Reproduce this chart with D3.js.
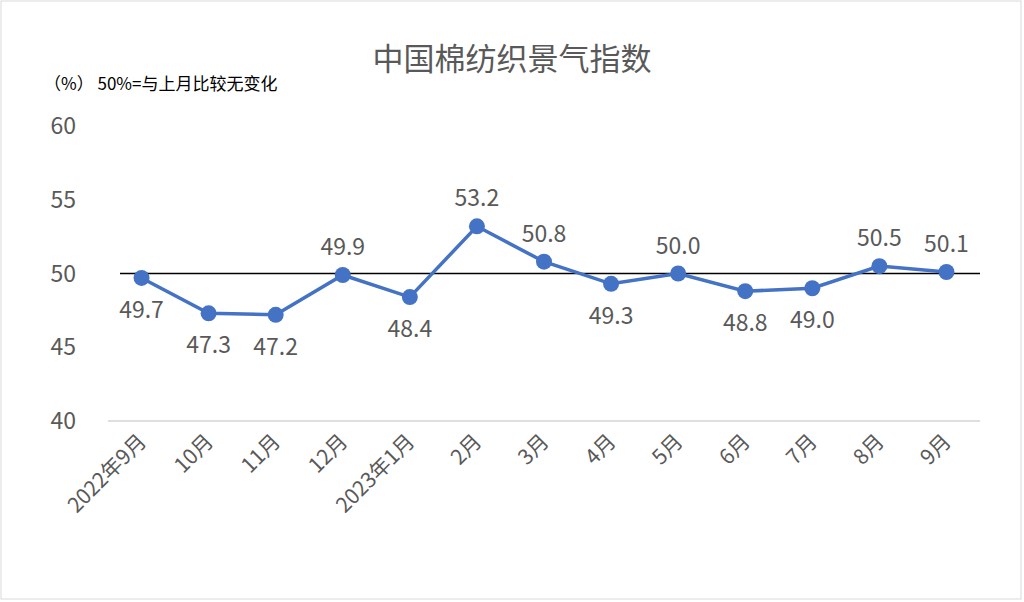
<!DOCTYPE html>
<html><head><meta charset="utf-8">
<script src="https://cdn.jsdelivr.net/npm/d3@7"></script>
<style>body{margin:0;background:#fff}svg{display:block}</style>
</head><body><svg id="c" width="1024" height="602"></svg>
<script>
const categories=["2022年9月","10月","11月","12月","2023年1月","2月","3月","4月","5月","6月","7月","8月","9月"];
const values=[49.7,47.3,47.2,49.9,48.4,53.2,50.8,49.3,50.0,48.8,49.0,50.5,50.1];
const labelAbove=[false,false,false,true,false,true,true,false,true,false,false,true,true];
const yTicks=[40,45,50,55,60];
const refValue=50;
const font="'Noto Sans CJK SC','Noto Sans',sans-serif";
const svg=d3.select("#c");
svg.append("rect").attr("x",1).attr("y",1).attr("width",1020).attr("height",598).attr("fill","#fff").attr("stroke","#d9d9d9");
const x=d3.scaleBand().domain(categories).range([108,980]);
const y=d3.scaleLinear().domain([40,60]).range([421,126]);
const cx=d=>x(d)+x.bandwidth()/2;
svg.append("text").attr("x",512).attr("y",70).attr("text-anchor","middle").attr("font-family",font).attr("font-size",31).attr("fill","#595959").text("中国棉纺织景气指数");
svg.append("text").attr("x",44).attr("y",90).attr("font-family",font).attr("font-size",17).attr("fill","#000").text("（%）  50%=与上月比较无变化");
// y axis labels
svg.append("g").selectAll("text").data(yTicks).join("text")
 .attr("x",76).attr("y",d=>y(d)+8).attr("text-anchor","end").attr("font-family",font).attr("font-size",23).attr("fill","#595959").text(d=>d);
// bottom axis line
svg.append("line").attr("x1",108).attr("x2",980).attr("y1",y(40)).attr("y2",y(40)).attr("stroke","#bfbfbf").attr("stroke-width",1);
// x labels
svg.append("g").selectAll("text").data(categories).join("text")
 .attr("transform",d=>`translate(${cx(d)+6},${y(40)+22}) rotate(-45)`).attr("text-anchor","end")
 .attr("font-family",font).attr("font-size",21).attr("fill","#595959").text(d=>d);
// reference line
svg.append("line").attr("x1",120).attr("x2",980).attr("y1",y(refValue)).attr("y2",y(refValue)).attr("stroke","#000").attr("stroke-width",1.5);
// series
svg.append("path").datum(values).attr("fill","none").attr("stroke","#4472C4").attr("stroke-width",3.5)
 .attr("d",d3.line().x((d,i)=>cx(categories[i])).y(d=>y(d)));
svg.append("g").selectAll("circle").data(values).join("circle")
 .attr("cx",(d,i)=>cx(categories[i])).attr("cy",d=>y(d)).attr("r",8).attr("fill","#4472C4");
svg.append("g").selectAll("text").data(values).join("text")
 .attr("x",(d,i)=>cx(categories[i])).attr("y",(d,i)=>labelAbove[i]?y(d)-20:y(d)+40)
 .attr("text-anchor","middle").attr("font-family",font).attr("font-size",23).attr("fill","#595959").text(d=>d.toFixed(1));
</script></body></html>
